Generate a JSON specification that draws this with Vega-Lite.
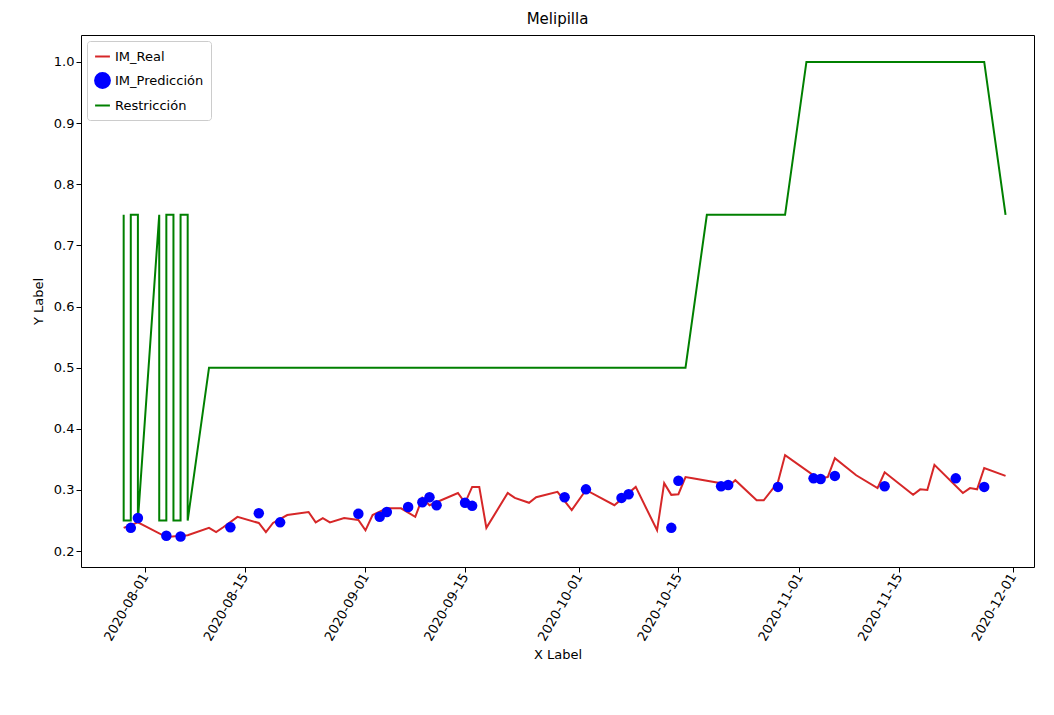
{
  "$schema": "https://vega.github.io/schema/vega-lite/v6.json",
  "width": 953,
  "height": 532,
  "padding": {"left": 32, "right": 10, "top": 12, "bottom": 5},
  "title": {"text": "Melipilla", "fontSize": 15, "fontWeight": "normal", "font": "DejaVu Sans", "color": "#000", "offset": 8},
  "config": {
    "font": "DejaVu Sans",
    "view": {"stroke": "#000", "strokeWidth": 1},
    "axis": {"grid": false, "domain": false, "labelFontSize": 13, "titleFontSize": 13, "titleFontWeight": "normal", "labelColor": "#000", "titleColor": "#000", "tickColor": "#000", "tickSize": 5}
  },
  "datasets": {
    "real": [
      {"d": "2020-07-29", "v": 0.238}, {"d": "2020-07-31", "v": 0.247}, {"d": "2020-08-04", "v": 0.223},
      {"d": "2020-08-07", "v": 0.226}, {"d": "2020-08-10", "v": 0.238}, {"d": "2020-08-11", "v": 0.231},
      {"d": "2020-08-12", "v": 0.239}, {"d": "2020-08-14", "v": 0.256}, {"d": "2020-08-17", "v": 0.246},
      {"d": "2020-08-18", "v": 0.231}, {"d": "2020-08-19", "v": 0.246}, {"d": "2020-08-21", "v": 0.259},
      {"d": "2020-08-24", "v": 0.264}, {"d": "2020-08-25", "v": 0.247}, {"d": "2020-08-26", "v": 0.254},
      {"d": "2020-08-27", "v": 0.247}, {"d": "2020-08-29", "v": 0.254}, {"d": "2020-08-31", "v": 0.251},
      {"d": "2020-09-01", "v": 0.234}, {"d": "2020-09-02", "v": 0.259}, {"d": "2020-09-04", "v": 0.270},
      {"d": "2020-09-06", "v": 0.270}, {"d": "2020-09-08", "v": 0.256}, {"d": "2020-09-09", "v": 0.287},
      {"d": "2020-09-10", "v": 0.275}, {"d": "2020-09-14", "v": 0.295}, {"d": "2020-09-15", "v": 0.279},
      {"d": "2020-09-16", "v": 0.305}, {"d": "2020-09-17", "v": 0.305}, {"d": "2020-09-18", "v": 0.238},
      {"d": "2020-09-21", "v": 0.295}, {"d": "2020-09-22", "v": 0.287}, {"d": "2020-09-24", "v": 0.279},
      {"d": "2020-09-25", "v": 0.288}, {"d": "2020-09-28", "v": 0.297}, {"d": "2020-09-30", "v": 0.267},
      {"d": "2020-10-02", "v": 0.300}, {"d": "2020-10-06", "v": 0.275}, {"d": "2020-10-09", "v": 0.305},
      {"d": "2020-10-12", "v": 0.234}, {"d": "2020-10-13", "v": 0.311}, {"d": "2020-10-14", "v": 0.292},
      {"d": "2020-10-15", "v": 0.293}, {"d": "2020-10-16", "v": 0.321}, {"d": "2020-10-17", "v": 0.319},
      {"d": "2020-10-21", "v": 0.311}, {"d": "2020-10-22", "v": 0.305}, {"d": "2020-10-23", "v": 0.316},
      {"d": "2020-10-26", "v": 0.283}, {"d": "2020-10-27", "v": 0.283}, {"d": "2020-10-29", "v": 0.313},
      {"d": "2020-10-30", "v": 0.357}, {"d": "2020-11-03", "v": 0.324}, {"d": "2020-11-04", "v": 0.319},
      {"d": "2020-11-05", "v": 0.321}, {"d": "2020-11-06", "v": 0.352}, {"d": "2020-11-09", "v": 0.324},
      {"d": "2020-11-12", "v": 0.303}, {"d": "2020-11-13", "v": 0.329}, {"d": "2020-11-17", "v": 0.292},
      {"d": "2020-11-18", "v": 0.301}, {"d": "2020-11-19", "v": 0.300}, {"d": "2020-11-20", "v": 0.341},
      {"d": "2020-11-24", "v": 0.295}, {"d": "2020-11-25", "v": 0.303}, {"d": "2020-11-26", "v": 0.301},
      {"d": "2020-11-27", "v": 0.336}, {"d": "2020-11-30", "v": 0.323}
    ],
    "pred": [
      {"d": "2020-07-30", "v": 0.238}, {"d": "2020-07-31", "v": 0.254}, {"d": "2020-08-04", "v": 0.225},
      {"d": "2020-08-06", "v": 0.224}, {"d": "2020-08-13", "v": 0.239}, {"d": "2020-08-17", "v": 0.262},
      {"d": "2020-08-20", "v": 0.247}, {"d": "2020-08-31", "v": 0.261}, {"d": "2020-09-03", "v": 0.256},
      {"d": "2020-09-04", "v": 0.264}, {"d": "2020-09-07", "v": 0.272}, {"d": "2020-09-09", "v": 0.280},
      {"d": "2020-09-10", "v": 0.288}, {"d": "2020-09-11", "v": 0.275}, {"d": "2020-09-15", "v": 0.279},
      {"d": "2020-09-16", "v": 0.274}, {"d": "2020-09-29", "v": 0.288}, {"d": "2020-10-02", "v": 0.301},
      {"d": "2020-10-07", "v": 0.287}, {"d": "2020-10-08", "v": 0.293}, {"d": "2020-10-14", "v": 0.238},
      {"d": "2020-10-15", "v": 0.315}, {"d": "2020-10-21", "v": 0.306}, {"d": "2020-10-22", "v": 0.308},
      {"d": "2020-10-29", "v": 0.305}, {"d": "2020-11-03", "v": 0.319}, {"d": "2020-11-04", "v": 0.318},
      {"d": "2020-11-06", "v": 0.323}, {"d": "2020-11-13", "v": 0.306}, {"d": "2020-11-23", "v": 0.319},
      {"d": "2020-11-27", "v": 0.305}
    ],
    "restr": [
      {"i": 1, "d": "2020-07-29", "v": 0.75}, {"i": 2, "d": "2020-07-29", "v": 0.25},
      {"i": 3, "d": "2020-07-30", "v": 0.25}, {"i": 4, "d": "2020-07-30", "v": 0.75},
      {"i": 5, "d": "2020-07-31", "v": 0.75}, {"i": 6, "d": "2020-07-31", "v": 0.25},
      {"i": 7, "d": "2020-08-03", "v": 0.75}, {"i": 8, "d": "2020-08-03", "v": 0.25},
      {"i": 9, "d": "2020-08-04", "v": 0.25}, {"i": 10, "d": "2020-08-04", "v": 0.75},
      {"i": 11, "d": "2020-08-05", "v": 0.75}, {"i": 12, "d": "2020-08-05", "v": 0.25},
      {"i": 13, "d": "2020-08-06", "v": 0.25}, {"i": 14, "d": "2020-08-06", "v": 0.75},
      {"i": 15, "d": "2020-08-07", "v": 0.75}, {"i": 16, "d": "2020-08-07", "v": 0.25},
      {"i": 17, "d": "2020-08-10", "v": 0.5}, {"i": 18, "d": "2020-10-16", "v": 0.5},
      {"i": 19, "d": "2020-10-19", "v": 0.75}, {"i": 20, "d": "2020-10-30", "v": 0.75},
      {"i": 21, "d": "2020-11-02", "v": 1.0}, {"i": 22, "d": "2020-11-27", "v": 1.0},
      {"i": 23, "d": "2020-11-30", "v": 0.75}
    ]
  },
  "encoding": {
    "x": {
      "field": "d", "type": "temporal", "title": "X Label",
      "scale": {"domain": ["2020-07-23", "2020-12-04"]},
      "axis": {"format": "%Y-%m-%d", "labelAngle": -60, "labelAlign": "right", "labelBaseline": "middle", "titlePadding": 6,
        "values": ["2020-08-01", "2020-08-15", "2020-09-01", "2020-09-15", "2020-10-01", "2020-10-15", "2020-11-01", "2020-11-15", "2020-12-01"]}
    },
    "y": {
      "field": "v", "type": "quantitative", "title": "Y Label",
      "scale": {"domain": [0.174, 1.044], "nice": false, "zero": false},
      "axis": {"values": [0.2, 0.3, 0.4, 0.5, 0.6, 0.7, 0.8, 0.9, 1.0], "format": ".1f", "titlePadding": 8}
    },
    "color": {
      "field": "s", "type": "nominal",
      "scale": {"domain": ["IM_Real", "IM_Predicción", "Restricción"], "range": ["#d62728", "#0000ff", "#008000"]},
      "legend": {"title": null, "orient": "top-left", "strokeColor": "#ccc", "fillColor": "white", "padding": 7, "cornerRadius": 3, "labelFontSize": 13, "symbolSize": 220, "symbolStrokeWidth": 2, "rowPadding": 5, "offset": 6}
    },
    "shape": {
      "field": "s", "type": "nominal",
      "scale": {"domain": ["IM_Real", "IM_Predicción", "Restricción"], "range": ["stroke", "circle", "stroke"]}
    }
  },
  "layer": [
    {
      "data": {"name": "restr"},
      "transform": [{"calculate": "'Restricción'", "as": "s"}],
      "mark": {"type": "line", "strokeWidth": 2},
      "encoding": {"order": {"field": "i", "type": "quantitative"}}
    },
    {
      "data": {"name": "real"},
      "transform": [{"calculate": "'IM_Real'", "as": "s"}],
      "mark": {"type": "line", "strokeWidth": 2}
    },
    {
      "data": {"name": "pred"},
      "transform": [{"calculate": "'IM_Predicción'", "as": "s"}],
      "mark": {"type": "point", "filled": true, "size": 110, "opacity": 1}
    }
  ]
}
